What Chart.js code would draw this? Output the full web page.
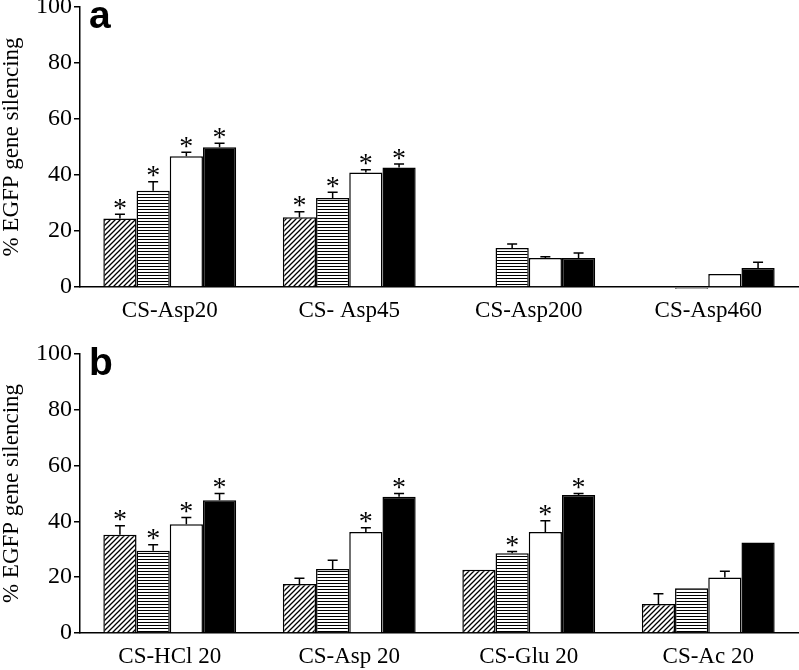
<!DOCTYPE html>
<html>
<head>
<meta charset="utf-8">
<script src="https://cdn.jsdelivr.net/npm/chart.js@4"></script>
<style>
  body { margin: 0; background: #fff; }
  #wrap { position: relative; width: 799px; height: 670px; overflow: hidden; }
  .panel { position: absolute; left: 0; width: 799px; height: 355px; }
  #panel-a { top: -20px; }
  #panel-b { top: 315px; }
</style>
</head>
<body>
<div id="wrap">
  <div class="panel" id="panel-a"><canvas id="chart-a"></canvas></div>
  <div class="panel" id="panel-b"><canvas id="chart-b"></canvas></div>
</div>
<script>
// panel a
const catsA = ['CS-Asp20', 'CS- Asp45', 'CS-Asp200', 'CS-Asp460'];
const a1 = [24.5, 24.9, 0, 0];
const a2 = [34.4, 31.8, 13.9, -0.6];
const a3 = [46.7, 40.9, 10.4, 4.6];
const a4 = [49.9, 42.7, 10.4, 6.8];
const errA1 = [1.5, 2.0, 0, 0];
const errA2 = [3.2, 2.0, 1.5, 0];
const errA3 = [1.4, 1.0, 0.4, 0];
const errA4 = [1.4, 1.2, 1.7, 2.0];
const sigA1 = [1, 1, 0, 0];
const sigA2 = [1, 1, 0, 0];
const sigA3 = [1, 1, 0, 0];
const sigA4 = [1, 1, 0, 0];

// panel b
const catsB = ['CS-HCl 20', 'CS-Asp 20', 'CS-Glu 20', 'CS-Ac 20'];
const b1 = [35.2, 17.6, 22.7, 10.4];
const b2 = [29.5, 22.9, 28.6, 16.0];
const b3 = [39.0, 36.2, 36.2, 19.9];
const b4 = [47.6, 48.8, 49.5, 32.4];
const errB1 = [3.2, 2.0, 0, 3.7];
const errB2 = [2.1, 3.2, 0.6, 0];
const errB3 = [2.4, 1.5, 4.0, 2.2];
const errB4 = [2.4, 1.2, 0.5, 0];
const sigB1 = [1, 0, 0, 0];
const sigB2 = [1, 0, 1, 0];
const sigB3 = [1, 1, 1, 0];
const sigB4 = [1, 1, 1, 0];

const yTicks = [0, 20, 40, 60, 80, 100];
const yTitle = '% EGFP gene silencing';
const serif = "'Liberation Serif', 'Times New Roman', serif";

function diagPattern() {
  const p = 5;
  const c = document.createElement('canvas');
  c.width = p; c.height = p;
  const g = c.getContext('2d');
  g.fillStyle = '#fff';
  g.fillRect(0, 0, p, p);
  g.strokeStyle = '#000';
  g.lineWidth = 1.3;
  g.beginPath();
  g.moveTo(0, p); g.lineTo(p, 0);
  g.moveTo(-1, 1); g.lineTo(1, -1);
  g.moveTo(p - 1, p + 1); g.lineTo(p + 1, p - 1);
  g.stroke();
  return g.createPattern(c, 'repeat');
}

function stripePattern() {
  const c = document.createElement('canvas');
  c.width = 4; c.height = 3;
  const g = c.getContext('2d');
  g.fillStyle = '#fff';
  g.fillRect(0, 0, 4, 3);
  g.fillStyle = '#000';
  g.fillRect(0, 1, 4, 1);
  return g.createPattern(c, 'repeat');
}

const fills = [diagPattern(), stripePattern(), '#fff', '#000'];

// error bars (upper only) and asterisks
const errorBars = {
  id: 'errorBars',
  afterDatasetsDraw(chart) {
    const ctx = chart.ctx;
    const y = chart.scales.y;
    ctx.save();
    ctx.strokeStyle = '#000';
    ctx.fillStyle = '#000';
    ctx.lineWidth = 1.5;
    ctx.font = '28px ' + serif;
    ctx.textAlign = 'center';
    ctx.textBaseline = 'alphabetic';
    chart.data.datasets.forEach((ds, i) => {
      chart.getDatasetMeta(i).data.forEach((bar, j) => {
        const v = ds.data[j];
        const e = ds.errors[j];
        let top = y.getPixelForValue(Math.max(v, 0));
        if (e > 0) {
          const yt = y.getPixelForValue(v + e);
          ctx.beginPath();
          ctx.moveTo(bar.x, top);
          ctx.lineTo(bar.x, yt);
          ctx.moveTo(bar.x - 5, yt);
          ctx.lineTo(bar.x + 5, yt);
          ctx.stroke();
          top = yt;
        }
        if (ds.sig[j]) ctx.fillText('*', bar.x, top + 2.5);
      });
    });
    ctx.restore();
  }
};

function panelLetter(letter, dx, dy) {
  return {
    id: 'letter' + letter,
    afterDraw(chart) {
      const ctx = chart.ctx;
      ctx.save();
      ctx.fillStyle = '#000';
      ctx.font = "bold 39px 'Liberation Sans', Arial, sans-serif";
      ctx.textBaseline = 'alphabetic';
      ctx.fillText(letter, chart.chartArea.left + dx, chart.chartArea.top + dy);
      ctx.restore();
    }
  };
}

function makeChart(id, cats, vals, errs, sigs, letter, padTop, xHeight) {
  return new Chart(document.getElementById(id), {
    type: 'bar',
    data: {
      labels: cats,
      datasets: vals.map((v, i) => ({
        label: 'S' + (i + 1),
        data: v,
        errors: errs[i],
        sig: sigs[i],
        backgroundColor: fills[i],
        borderColor: '#000',
        borderWidth: 1.5,
        clip: false,
        categoryPercentage: 0.74,
        barPercentage: 1
      }))
    },
    options: {
      responsive: true,
      maintainAspectRatio: false,
      animation: false,
      layout: { padding: { top: padTop, right: 1, left: 0, bottom: 0 } },
      plugins: { legend: { display: false }, tooltip: { enabled: false } },
      scales: {
        x: {
          grid: { display: false },
          border: { display: true, color: '#000', width: 1.5 },
          ticks: { color: '#000', font: { family: serif, size: 23 }, padding: 2 },
          afterFit(s) { s.height = xHeight; }
        },
        y: {
          min: 0,
          max: 100,
          afterBuildTicks(s) { s.ticks = yTicks.map(v => ({ value: v })); },
          grid: { drawOnChartArea: false, drawTicks: true, tickLength: 6, color: '#000', lineWidth: 1.5 },
          border: { display: true, color: '#000', width: 1.5 },
          ticks: { color: '#000', font: { family: serif, size: 24 }, padding: 2 },
          title: { display: true, text: yTitle, color: '#000', font: { family: serif, size: 23, lineHeight: 1 }, padding: 0 },
          afterFit(s) { s.width = 80; }
        }
      }
    },
    plugins: [errorBars, panelLetter(letter, 9, 21)]
  });
}

makeChart('chart-a', catsA, [a1, a2, a3, a4], [errA1, errA2, errA3, errA4], [sigA1, sigA2, sigA3, sigA4], 'a', 27, 48);
makeChart('chart-b', catsB, [b1, b2, b3, b4], [errB1, errB2, errB3, errB4], [sigB1, sigB2, sigB3, sigB4], 'b', 39, 37);
</script>
</body>
</html>
